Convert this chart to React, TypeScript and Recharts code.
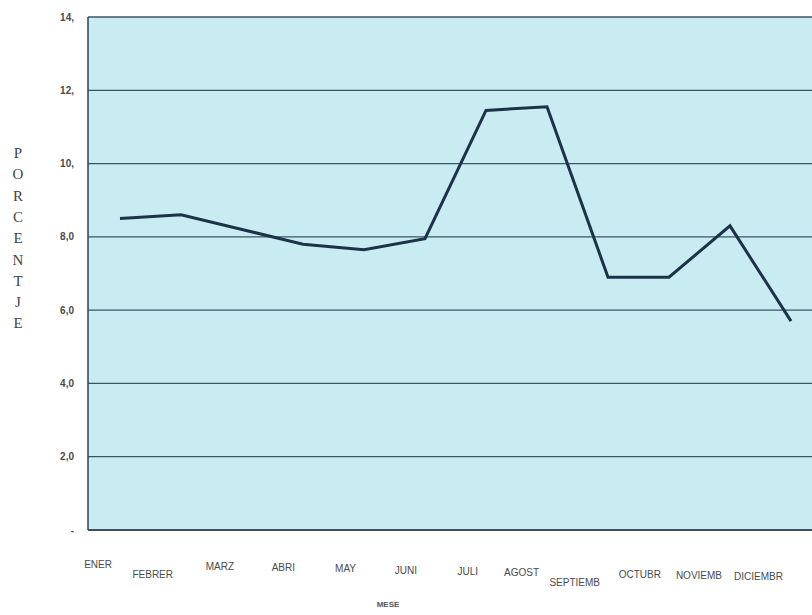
import { LineChart, Line, XAxis, YAxis, CartesianGrid, Label } from "recharts";

const months = [
  "ENER",
  "FEBRER",
  "MARZ",
  "ABRI",
  "MAY",
  "JUNI",
  "JULI",
  "AGOST",
  "SEPTIEMB",
  "OCTUBR",
  "NOVIEMB",
  "DICIEMBR",
];

const porcentaje = [8.5, 8.6, 8.2, 7.8, 7.65, 7.95, 11.45, 11.55, 6.9, 6.9, 8.3, 5.7];

const yTicks = [0, 2, 4, 6, 8, 10, 12, 14];
const yTickLabels = ["-", "2,0", "4,0", "6,0", "8,0", "10,", "12,", "14,"];

const yTitle = "PORCENTJE";
const xTitle = "MESE";

const data = months.map((m, i) => ({ mes: m, valor: porcentaje[i] }));

// labels that sit a little lower in the scan
const dropped = ["FEBRER", "SEPTIEMB"];

const MonthTick = (props: any) => {
  const { x, y, payload, index } = props;
  const dy = 30 + index * 1.1 + (dropped.includes(payload.value) ? 9 : 0);
  return (
    <text
      x={x - 8}
      y={y + dy}
      textAnchor="end"
      fontSize={10}
      fontFamily="'Liberation Sans Narrow', 'Liberation Sans', Arial, sans-serif"
      fill="#4a4a4a"
    >
      {payload.value}
    </text>
  );
};

const YTitle = () => (
  <text
    x={18}
    y={158}
    textAnchor="middle"
    fontSize={15}
    fontFamily="'Liberation Serif', 'DejaVu Serif', serif"
    fill="#444"
  >
    {yTitle.split("").map((ch, i) => (
      <tspan key={i} x={18} y={158 + i * 21.3}>
        {ch}
      </tspan>
    ))}
  </text>
);

const XTitle = () => (
  <text
    x={388}
    y={607}
    textAnchor="middle"
    fontSize={8}
    fontWeight="bold"
    fontFamily="'Liberation Sans', Arial, sans-serif"
    fill="#555"
  >
    {xTitle}
  </text>
);

export default function App() {
  return (
    <div
      style={{
        position: "fixed",
        left: 0,
        top: 0,
        width: 812,
        height: 615,
        overflow: "hidden",
        background: "#fff",
      }}
    >
      <LineChart width={820} height={615} data={data} margin={{ top: 17, right: 0, left: 0, bottom: 0 }}>
        <CartesianGrid
          vertical={false}
          horizontal
          fill="#c8ecf2"
          fillOpacity={1}
          stroke="#3c5562"
          strokeWidth={1.3}
        />
        <XAxis
          dataKey="mes"
          height={85}
          padding={{ left: 32, right: 29 }}
          tick={<MonthTick />}
          tickLine={false}
          axisLine={{ stroke: "#2d4450", strokeWidth: 1.5 }}
          interval={0}
        >
          <Label content={<XTitle />} />
        </XAxis>
        <YAxis
          width={88}
          domain={[0, 14]}
          ticks={yTicks}
          interval={0}
          tickFormatter={(v: number) => yTickLabels[yTicks.indexOf(v)]}
          tick={{ fontSize: 10, fill: "#4a4a4a", fontFamily: "'Liberation Sans', Arial, sans-serif", fontWeight: "bold" }}
          tickLine={false}
          tickMargin={8}
          axisLine={{ stroke: "#2d4450", strokeWidth: 1.5 }}
        >
          <Label content={<YTitle />} />
        </YAxis>
        <Line
          type="linear"
          dataKey="valor"
          stroke="#1d3149"
          strokeWidth={3}
          dot={false}
          isAnimationActive={false}
        />
      </LineChart>
    </div>
  );
}
